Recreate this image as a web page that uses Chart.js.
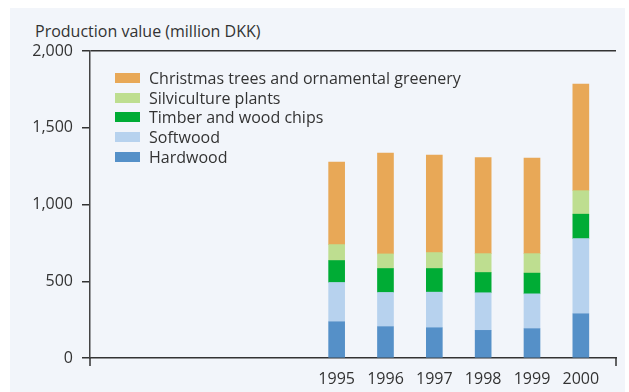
<!DOCTYPE html>
<html>
<head>
<meta charset="utf-8">
<script src="https://cdn.jsdelivr.net/npm/chart.js@4"></script>
<style>
  body { margin: 0; background: #ffffff; font-family: "Open Sans", sans-serif; }
  #wrap { position: relative; width: 629px; height: 392px; }
  #panel { position: absolute; left: 10px; top: 8px; width: 615px; height: 384px; background: #f2f5fa; }
  #titulo { position: absolute; left: 35px; top: 20px; font-size: 16px; line-height: 22px; color: #333; white-space: nowrap; }
  #leyenda { position: absolute; left: 115px; top: 68px; font-size: 16px; color: #333; }
  #leyenda div { display: flex; align-items: center; height: 19.7px; white-space: nowrap; }
  #leyenda span.caja { display: inline-block; width: 25px; height: 10px; margin-right: 9px; }
  canvas { position: absolute; left: 0; top: 0; }
</style>
</head>
<body>
<div id="wrap">
  <div id="panel"></div>
  <div id="titulo">Production value (million DKK)</div>
  <canvas id="grafico" width="629" height="392"></canvas>
  <div id="leyenda"></div>
</div>
<script>
const years = [1995, 1996, 1997, 1998, 1999, 2000];
const hardwood = [236, 204, 197, 180, 191, 288];
const softwood = [256, 223, 232, 245, 227, 490];
const timber = [143, 156, 154, 132, 135, 159];
const silviculture = [104, 95, 104, 123, 127, 153];
const christmas = [538, 657, 635, 625, 623, 694];
const yTicks = [0, 500, 1000, 1500, 2000];

const series = [
    { label: "Hardwood", values: hardwood, color: "#5590c8" },
    { label: "Softwood", values: softwood, color: "#b7d2ee" },
    { label: "Timber and wood chips", values: timber, color: "#00ac35" },
    { label: "Silviculture plants", values: silviculture, color: "#bede90" },
    { label: "Christmas trees and ornamental greenery", values: christmas, color: "#e8a857" },
];

const datasets = series.map((s) => ({
    label: s.label,
    data: s.values.map((v, i) => ({ x: years[i], y: v })),
    backgroundColor: s.color,
    borderWidth: 0,
    barThickness: 16,
}));

// small end marks under the x axis
const marcasEje = {
    id: "marcasEje",
    afterDraw(chart) {
        const ctx = chart.ctx;
        const x = chart.scales.x;
        ctx.save();
        ctx.strokeStyle = "#333";
        ctx.lineWidth = 1.5;
        ctx.beginPath();
        ctx.moveTo(x.left, x.top);
        ctx.lineTo(x.left, x.top + 8);
        ctx.moveTo(x.right, x.top);
        ctx.lineTo(x.right, x.top + 8);
        ctx.stroke();
        ctx.restore();
    },
};

Chart.defaults.font.family = '"Open Sans", sans-serif';
Chart.defaults.font.size = 16;
Chart.defaults.color = "#333";

const chart = new Chart(document.getElementById("grafico"), {
    type: "bar",
    data: { datasets: datasets },
    options: {
        responsive: false,
        animation: false,
        layout: { padding: { left: 0, top: 51, right: 13, bottom: 0 } },
        plugins: { legend: { display: false }, tooltip: { enabled: false } },
        scales: {
            x: {
                type: "linear",
                stacked: true,
                offset: false,
                min: 1989.95,
                max: 2000.72,
                afterBuildTicks: (scale) => {
                    scale.ticks = years.map((y) => ({ value: y }));
                },
                afterFit: (scale) => { scale.height = 34; },
                ticks: { callback: (v) => String(v), padding: 12, maxRotation: 0 },
                grid: { display: false, drawTicks: false },
                border: { display: true, color: "#333", width: 1.5 },
            },
            y: {
                stacked: true,
                min: 0,
                max: 2000,
                afterBuildTicks: (scale) => {
                    scale.ticks = yTicks.map((v) => ({ value: v }));
                },
                afterFit: (scale) => { scale.width = 90; },
                ticks: {
                    padding: 9,
                    callback: (v) => v.toLocaleString("en-US"),
                },
                grid: {
                    color: (c) => (c.tick && c.tick.value === 2000 ? "#333" : "rgba(0,0,0,0)"),
                    lineWidth: 1.5,
                    tickColor: "#333",
                    tickLength: 8,
                    tickWidth: 1.5,
                },
                border: { display: true, color: "#444", width: 1.5 },
            },
        },
    },
    plugins: [marcasEje],
});

// legend, stacked order from top to bottom
const leyenda = document.getElementById("leyenda");
chart.data.datasets.slice().reverse().forEach((ds) => {
    const fila = document.createElement("div");
    const caja = document.createElement("span");
    caja.className = "caja";
    caja.style.background = ds.backgroundColor;
    fila.appendChild(caja);
    fila.appendChild(document.createTextNode(ds.label));
    leyenda.appendChild(fila);
});
</script>
</body>
</html>
